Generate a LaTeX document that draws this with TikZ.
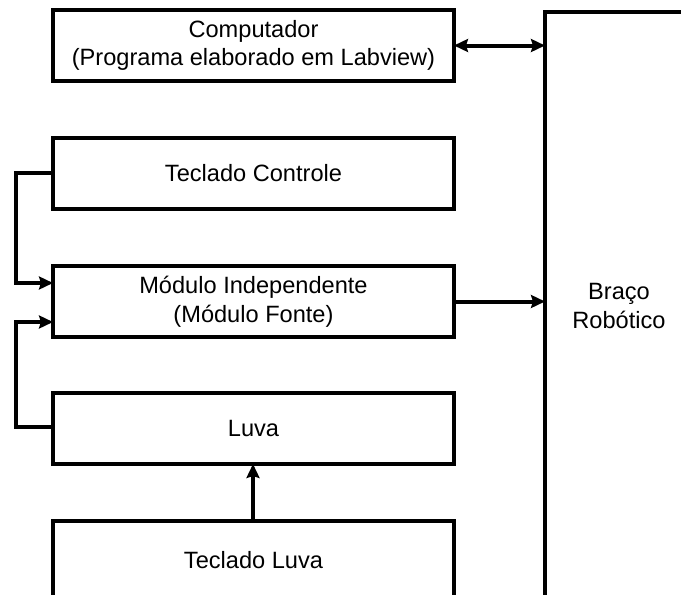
\documentclass[tikz,border=0pt]{standalone}
\usepackage{fontspec}
\setmainfont{Liberation Sans}
\usetikzlibrary{arrows.meta}
\begin{document}
\begin{tikzpicture}[x=1pt,y=-1pt,
  block/.style={draw, line width=4pt, inner sep=0pt, outer sep=0pt,
    minimum width=401pt, minimum height=71pt, align=center,
    font=\fontsize{23.6}{28.5}\selectfont},
  tip/.style={Stealth[length=14pt,width=13pt,inset=2pt]},
  link/.style={line width=4pt, -{Stealth[length=14pt,width=13pt,inset=2pt]}}]
  \useasboundingbox (0,0) rectangle (681,595);
  \clip (0,0) rectangle (681,595);

  % blocks on the left
  \node[block] (comp) at (253.5,45.5) {Computador\\(Programa elaborado em Labview)};
  \node[block] (tc)   at (253.5,173)  {Teclado Controle};
  \node[block] (mod)  at (253.5,301.5) {Módulo Independente\\(Módulo Fonte)};
  \node[block] (luva) at (253.5,428.5) {Luva};
  \node[block, minimum height=79pt] (tl) at (253.5,560.5) {Teclado Luva};

  % robot arm block, running past the right and bottom edges
  \node[block, minimum width=148pt, minimum height=588pt] (braco) at (619,306)
    {Braço\\Robótico};

  % inputs of the source module
  \coordinate (in1) at ([yshift=18.5pt]mod.west);
  \coordinate (in2) at ([yshift=-20.5pt]mod.west);
  \coordinate (tcl) at (16,173);
  \coordinate (lvl) at (16,427);

  % connectors
  \draw[link] (tc.west) -- (tcl) |- (in1);
  \draw[link] (luva.west |- lvl) -- (lvl) |- (in2);
  \draw[link] (mod.east) -- (mod.east -| braco.west);
  \draw[link, {Stealth[length=14pt,width=13pt,inset=2pt]}-{Stealth[length=14pt,width=13pt,inset=2pt]}]
    (comp.east) -- (comp.east -| braco.west);
  \draw[link] (tl.north -| 253,0) -- (luva.south -| 253,0);
\end{tikzpicture}
\end{document}
